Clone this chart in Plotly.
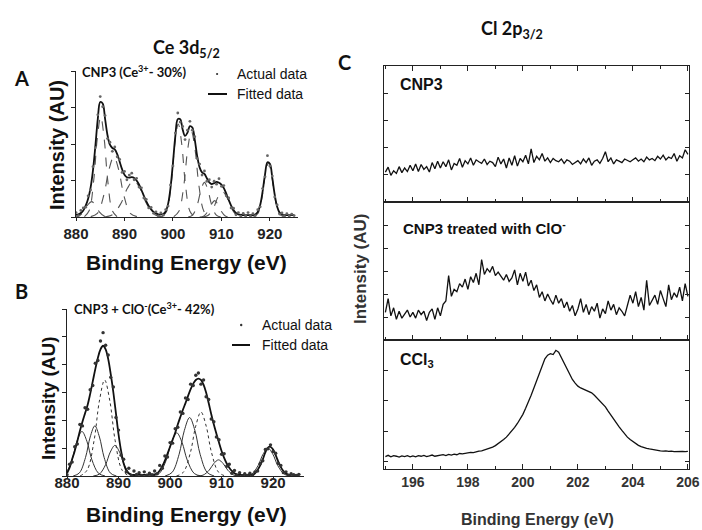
import numpy as np
import plotly.graph_objects as go

W, H = 702, 530

# ---------------- Panel A : Ce 3d5/2, CNP3 ----------------
E_A = np.arange(880, 925.01, 0.5)
fit_A = [0.06, 0.07, 0.11, 0.18, 0.31, 0.50, 0.80, 1.28, 1.95, 2.69,
         3.15, 3.11, 2.69, 2.24, 1.98, 1.89, 1.85, 1.72, 1.52, 1.31,
         1.16, 1.09, 1.08, 1.09, 1.07, 1.00, 0.89, 0.74, 0.58, 0.43,
         0.30, 0.21, 0.14, 0.10, 0.07, 0.07, 0.08, 0.15, 0.36, 0.80,
         1.48, 2.22, 2.68, 2.68, 2.40, 2.22, 2.31, 2.49, 2.45, 2.12,
         1.67, 1.36, 1.22, 1.18, 1.06, 0.95, 0.90, 0.93, 0.96, 0.94,
         0.89, 0.79, 0.64, 0.47, 0.31, 0.19, 0.11, 0.07, 0.06, 0.05,
         0.05, 0.05, 0.05, 0.05, 0.07, 0.14, 0.33, 0.70, 1.17, 1.50,
         1.46, 1.07, 0.61, 0.28, 0.12, 0.07, 0.05, 0.05, 0.05, 0.05, 0.05]
act_A = [0.12, 0.04, 0.18, 0.25, 0.27, 0.58, 0.74, 1.38, 1.90, 2.80,
         3.30, 3.02, 2.78, 2.15, 2.05, 1.80, 1.92, 1.65, 1.58, 1.22,
         1.25, 1.02, 1.15, 1.20, 1.02, 1.06, 0.82, 0.80, 0.52, 0.48,
         0.25, 0.26, 0.10, 0.14, 0.03, 0.11, 0.05, 0.20, 0.30, 0.88,
         1.40, 2.30, 2.85, 2.60, 2.48, 2.12, 2.38, 2.62, 2.38, 2.20,
         1.60, 1.45, 1.15, 1.26, 0.98, 1.02, 0.82, 0.98, 0.90, 1.05,
         0.84, 0.86, 0.58, 0.52, 0.25, 0.24, 0.06, 0.12, 0.02, 0.10,
         0.03, 0.12, 0.02, 0.09, 0.04, 0.20, 0.28, 0.78, 1.10, 1.68,
         1.40, 1.12, 0.55, 0.33, 0.08, 0.11, 0.02, 0.09, 0.03, 0.08, 0.04]
compA_x = [
    [879.56, 880.6, 881.64, 882.42, 883.2, 883.98, 884.76, 885.8, 886.84],
    [881.74, 882.7, 883.66, 884.38, 885.1, 885.82, 886.54, 887.5, 888.46],
    [883.04, 884.4, 885.76, 886.78, 887.8, 888.82, 889.84, 891.2, 892.56],
    [885.74, 887.5, 889.26, 890.58, 891.9, 893.22, 894.54, 896.3, 898.06],
    [897.74, 898.7, 899.66, 900.38, 901.1, 901.82, 902.54, 903.5, 904.46],
    [900.16, 901.2, 902.24, 903.02, 903.8, 904.58, 905.36, 906.4, 907.44],
    [903.14, 904.1, 905.06, 905.78, 906.5, 907.22, 907.94, 908.9, 909.86],
    [905.52, 906.4, 907.28, 907.94, 908.6, 909.26, 909.92, 910.8, 911.68],
    [906.0, 907.2, 908.4, 909.3, 910.2, 911.1, 912.0, 913.2, 914.4],
    [916.62, 917.5, 918.38, 919.04, 919.7, 920.36, 921.02, 921.9, 922.78],
]
compA_y = [
    [0.0, 0.03, 0.15, 0.33, 0.42, 0.33, 0.15, 0.03, 0.0],
    [0.01, 0.17, 1.01, 2.14, 2.75, 2.14, 1.01, 0.17, 0.01],
    [0.01, 0.10, 0.61, 1.29, 1.65, 1.29, 0.61, 0.10, 0.01],
    [0.0, 0.06, 0.37, 0.78, 1.0, 0.78, 0.37, 0.06, 0.0],
    [0.01, 0.16, 0.94, 1.99, 2.55, 1.99, 0.94, 0.16, 0.01],
    [0.01, 0.15, 0.86, 1.83, 2.35, 1.83, 0.86, 0.15, 0.01],
    [0.0, 0.06, 0.35, 0.74, 0.95, 0.74, 0.35, 0.06, 0.0],
    [0.0, 0.03, 0.17, 0.35, 0.45, 0.35, 0.17, 0.03, 0.0],
    [0.0, 0.04, 0.26, 0.55, 0.7, 0.55, 0.26, 0.04, 0.0],
    [0.01, 0.09, 0.54, 1.15, 1.48, 1.15, 0.54, 0.09, 0.01],
]

# ---------------- Panel B : Ce 3d5/2, CNP3 + ClO- ----------------
E_B = np.arange(880, 925.01, 0.5)
fit_B = [0.10, 0.30, 0.60, 0.90, 1.25, 1.62, 1.95, 2.25, 2.55, 2.95,
         3.40, 3.85, 4.25, 4.55, 4.68, 4.55, 4.20, 3.65, 3.00, 2.25,
         1.50, 0.90, 0.45, 0.20, 0.09, 0.05, 0.04, 0.04, 0.04, 0.04,
         0.04, 0.04, 0.04, 0.04, 0.06, 0.10, 0.20, 0.35, 0.55, 0.80,
         1.05, 1.30, 1.55, 1.85, 2.12, 2.38, 2.62, 2.88, 3.12, 3.32,
         3.45, 3.50, 3.45, 3.28, 3.00, 2.62, 2.22, 1.85, 1.52, 1.20,
         0.90, 0.65, 0.45, 0.30, 0.18, 0.10, 0.06, 0.04, 0.04, 0.04,
         0.04, 0.04, 0.04, 0.10, 0.22, 0.38, 0.60, 0.85, 1.02, 1.05,
         0.95, 0.75, 0.52, 0.32, 0.18, 0.09, 0.05, 0.04, 0.04, 0.04, 0.04]
act_B = [0.05, 0.42, 0.50, 1.05, 1.15, 1.85, 1.80, 2.45, 2.40, 3.10,
         3.25, 4.05, 4.15, 4.85, 5.15, 4.70, 4.35, 3.55, 3.20, 2.10,
         1.65, 0.75, 0.60, 0.15, 0.28, 0.02, 0.18, 0.06, 0.12, 0.02,
         0.15, 0.03, 0.10, 0.05, 0.18, 0.08, 0.38, 0.28, 0.72, 0.68,
         1.20, 1.18, 1.70, 1.75, 2.30, 2.25, 2.80, 2.75, 3.30, 3.25,
         3.62, 3.70, 3.30, 3.45, 2.85, 2.75, 2.05, 1.95, 1.40, 1.30,
         0.78, 0.80, 0.35, 0.42, 0.10, 0.20, 0.02, 0.12, 0.01, 0.08,
         0.02, 0.10, 0.01, 0.15, 0.18, 0.45, 0.55, 0.95, 0.98, 1.12,
         0.88, 0.82, 0.45, 0.38, 0.12, 0.15, 0.02, 0.08, 0.05, 0.02, 0.06]
compB_x = [
    [878.42, 879.7, 880.98, 881.94, 882.9, 883.86, 884.82, 886.1, 887.38],
    [881.2, 882.4, 883.6, 884.5, 885.4, 886.3, 887.2, 888.4, 889.6],
    [882.54, 883.9, 885.26, 886.28, 887.3, 888.32, 889.34, 890.7, 892.06],
    [885.1, 886.3, 887.5, 888.4, 889.3, 890.2, 891.1, 892.3, 893.5],
    [896.54, 897.9, 899.26, 900.28, 901.3, 902.32, 903.34, 904.7, 906.06],
    [899.04, 900.4, 901.76, 902.78, 903.8, 904.82, 905.84, 907.2, 908.56],
    [901.24, 902.6, 903.96, 904.98, 906.0, 907.02, 908.04, 909.4, 910.76],
    [905.2, 906.4, 907.6, 908.5, 909.4, 910.3, 911.2, 912.4, 913.6],
    [914.52, 915.8, 917.08, 918.04, 919.0, 919.96, 920.92, 922.2, 923.48],
]
compB_y = [
    [0.0, 0.10, 0.59, 1.25, 1.6, 1.25, 0.59, 0.10, 0.0],
    [0.0, 0.11, 0.67, 1.40, 1.8, 1.40, 0.67, 0.11, 0.0],
    [0.0, 0.21, 1.28, 2.69, 3.45, 2.69, 1.28, 0.21, 0.0],
    [0.0, 0.07, 0.41, 0.86, 1.1, 0.86, 0.41, 0.07, 0.0],
    [0.0, 0.09, 0.57, 1.21, 1.55, 1.21, 0.57, 0.09, 0.0],
    [0.0, 0.13, 0.78, 1.64, 2.1, 1.64, 0.78, 0.13, 0.0],
    [0.0, 0.14, 0.85, 1.79, 2.3, 1.79, 0.85, 0.14, 0.0],
    [0.0, 0.03, 0.21, 0.45, 0.58, 0.45, 0.21, 0.03, 0.0],
    [0.0, 0.06, 0.37, 0.78, 1.0, 0.78, 0.37, 0.06, 0.0],
]
compB_dash = ["solid", "solid", "dot", "solid", "solid", "solid", "dot", "solid", "solid"]

# ---------------- Panel C : Cl 2p3/2 ----------------
E_C = np.round(np.arange(195.0, 206.001, 0.1), 1)
cnp3 = [1.10, 1.28, 0.98, 1.15, 1.05, 1.30, 1.08, 1.25, 1.12, 1.35,
        1.15, 1.40, 1.12, 1.38, 1.20, 1.30, 1.10, 1.45, 1.22, 1.50,
        1.25, 1.48, 1.30, 1.55, 1.18, 1.42, 1.35, 1.60, 1.28, 1.52,
        1.40, 1.62, 1.35, 1.55, 1.48, 1.42, 1.58, 1.38, 1.50, 1.45,
        1.30, 1.65, 1.40, 1.58, 1.25, 1.62, 1.35, 1.70, 1.32, 1.60,
        1.48, 1.72, 1.40, 1.95, 1.45, 1.68, 1.55, 1.78, 1.50, 1.62,
        1.45, 1.60, 1.52, 1.48, 1.58, 1.42, 1.55, 1.50, 1.38, 1.45,
        1.52, 1.40, 1.58, 1.45, 1.62, 1.35, 1.50, 1.55, 1.42, 1.60,
        1.85, 1.48, 1.62, 1.40, 1.55, 1.50, 1.45, 1.58, 1.52, 1.48,
        1.55, 1.62, 1.50, 1.58, 1.48, 1.65, 1.55, 1.60, 1.52, 1.68,
        1.58, 1.72, 1.55, 1.65, 1.60, 1.78, 1.50, 1.70, 1.62, 1.92,
        1.75]
cnp3_clo = [1.20, 1.80, 1.05, 1.40, 0.90, 1.25, 0.95, 1.15, 1.30, 1.00,
            1.20, 0.95, 1.30, 1.10, 1.25, 0.85, 1.20, 1.35, 0.90, 1.40,
            1.05, 1.55, 1.70, 2.80, 1.90, 2.20, 2.10, 2.45, 2.30, 2.65,
            2.20, 2.75, 2.50, 2.90, 2.40, 3.50, 2.85, 3.10, 2.95, 3.20,
            2.80, 2.95, 2.75, 2.60, 2.85, 2.55, 2.70, 3.05, 2.40, 2.90,
            2.55, 2.95, 2.35, 2.60, 2.15, 2.40, 1.85, 2.10, 1.70, 2.00,
            1.75, 1.55, 1.95, 1.60, 1.80, 1.40, 1.65, 1.25, 1.50, 1.05,
            1.35, 1.80, 1.20, 1.55, 1.10, 1.45, 1.25, 1.60, 0.95, 1.35,
            1.15, 1.70, 1.30, 1.55, 1.10, 1.40, 1.25, 1.05, 1.50, 1.95,
            1.60, 2.10, 1.45, 1.85, 1.30, 2.60, 1.50, 1.70, 1.95, 1.55,
            2.15, 1.80, 1.45, 2.40, 1.75, 2.05, 1.85, 2.30, 1.70, 2.45,
            1.90]
ccl3 = [0.16, 0.20, 0.15, 0.19, 0.17, 0.14, 0.18, 0.16, 0.19, 0.15,
        0.18, 0.15, 0.19, 0.17, 0.20, 0.16, 0.18, 0.21, 0.17, 0.19,
        0.20, 0.22, 0.19, 0.23, 0.21, 0.24, 0.22, 0.26, 0.25, 0.27,
        0.28, 0.30, 0.29, 0.32, 0.34, 0.35, 0.38, 0.40, 0.44, 0.47,
        0.52, 0.58, 0.64, 0.72, 0.80, 0.90, 1.00, 1.12, 1.25, 1.40,
        1.55, 1.75, 1.95, 2.18, 2.42, 2.65, 2.90, 3.15, 3.38, 3.50,
        3.55, 3.52, 3.66, 3.60, 3.42, 3.22, 3.02, 2.85, 2.70, 2.58,
        2.48, 2.42, 2.38, 2.32, 2.30, 2.26, 2.18, 2.08, 1.98, 1.90,
        1.80, 1.66, 1.52, 1.40, 1.26, 1.14, 1.02, 0.90, 0.80, 0.72,
        0.65, 0.58, 0.53, 0.49, 0.45, 0.43, 0.41, 0.39, 0.37, 0.36,
        0.35, 0.34, 0.35, 0.33, 0.34, 0.32, 0.33, 0.32, 0.33, 0.32,
        0.33]

ce_ticks = [880, 890, 900, 910, 920]
cl_ticks = [196, 198, 200, 202, 204, 206]


def px(x):
    return x / W


def py(y):
    return 1 - y / H


fig = go.Figure()

# Panel A traces
for cx, cy in zip(compA_x, compA_y):
    fig.add_trace(go.Scatter(x=cx, y=cy, mode="lines", line_shape="spline",
                             line=dict(color="#555555", width=1.1, dash="dash"),
                             xaxis="x", yaxis="y", showlegend=False, hoverinfo="skip"))
fig.add_trace(go.Scatter(x=E_A, y=fit_A, mode="lines", line_shape="spline",
                         line=dict(color="#111111", width=1.8),
                         xaxis="x", yaxis="y", showlegend=False))
fig.add_trace(go.Scatter(x=E_A, y=act_A, mode="markers",
                         marker=dict(color="#666666", size=2.8),
                         xaxis="x", yaxis="y", showlegend=False))

# Panel B traces
for cx, cy, dsh in zip(compB_x, compB_y, compB_dash):
    fig.add_trace(go.Scatter(x=cx, y=cy, mode="lines", line_shape="spline",
                             line=dict(color="#333333", width=1.0, dash=dsh),
                             xaxis="x2", yaxis="y2", showlegend=False, hoverinfo="skip"))
fig.add_trace(go.Scatter(x=E_B, y=fit_B, mode="lines", line_shape="spline",
                         line=dict(color="#111111", width=1.8),
                         xaxis="x2", yaxis="y2", showlegend=False))
fig.add_trace(go.Scatter(x=E_B, y=act_B, mode="markers",
                         marker=dict(color="#333333", size=3.4),
                         xaxis="x2", yaxis="y2", showlegend=False))

# Panel C traces
for arr, xa, ya in [(cnp3, "x3", "y3"), (cnp3_clo, "x4", "y4"), (ccl3, "x5", "y5")]:
    fig.add_trace(go.Scatter(x=E_C, y=arr, mode="lines",
                             line=dict(color="#111111", width=1.3),
                             xaxis=xa, yaxis=ya, showlegend=False))

ax_line = dict(showline=True, linecolor="#222222", linewidth=1.4, showgrid=False,
               zeroline=False, automargin=False)
tick_font_ab = dict(family="Liberation Sans, Arial", size=15, color="#222222",
                    weight="bold")

xa_A = dict(ax_line, domain=[px(76), px(298)], range=[880, 925.8], anchor="y",
            tickvals=ce_ticks, ticks="outside", ticklen=3, tickcolor="#222222",
            tickfont=tick_font_ab)
ya_A = dict(ax_line, domain=[py(217), py(71)], range=[0, 4], anchor="x",
            dtick=1, ticks="outside", ticklen=4, tickcolor="#222222",
            showticklabels=False)
xa_B = dict(ax_line, domain=[px(67), px(304)], range=[880, 926], anchor="y2",
            tickvals=ce_ticks, ticks="outside", ticklen=2, tickcolor="#222222",
            tickfont=tick_font_ab, ticklabelstandoff=-9)
ya_B = dict(ax_line, domain=[py(476), py(309)], range=[0, 6], anchor="x2",
            dtick=1, ticks="outside", ticklen=4, tickcolor="#222222",
            showticklabels=False)

c_dom = [px(384), px(689)]
c_range = [194.95, 206.04]
c_x_common = dict(ax_line, domain=c_dom, range=c_range, tickvals=cl_ticks,
                  ticks="inside", ticklen=5, tickcolor="#222222",
                  minor=dict(dtick=1, tick0=195, ticks="inside", ticklen=2.5,
                             tickcolor="#222222"))
c_y_common = dict(ax_line, ticks="inside", ticklen=4, tickcolor="#222222",
                  showticklabels=False, mirror="ticks")

layout = dict(
    width=W, height=H, autosize=False,
    margin=dict(l=0, r=0, t=0, b=0, pad=0, autoexpand=False),
    paper_bgcolor="white", plot_bgcolor="rgba(0,0,0,0)",
    xaxis=xa_A, yaxis=ya_A, xaxis2=xa_B, yaxis2=ya_B,
    xaxis3=dict(c_x_common, anchor="y3", mirror="ticks", showticklabels=False),
    yaxis3=dict(c_y_common, anchor="x3", domain=[py(202), py(66)], range=[0, 5], dtick=1),
    xaxis4=dict(c_x_common, anchor="y4", mirror=True, showticklabels=False),
    yaxis4=dict(c_y_common, anchor="x4", domain=[py(340), py(202)], range=[0, 6], dtick=1),
    xaxis5=dict(c_x_common, anchor="y5", mirror=True, showticklabels=True,
                tickfont=dict(family="Liberation Sans, Arial", size=14, color="#333333",
                              weight="bold")),
    yaxis5=dict(c_y_common, anchor="x5", domain=[py(469), py(340)], range=[-0.25, 4],
                tickvals=[0, 1, 2, 3]),
    showlegend=False,
)
fig.update_layout(**layout)

ann = []


def add_text(text, x, y, size, family="Liberation Sans, Arial", xanchor="center",
             yanchor="middle", angle=0, color="#111111"):
    ann.append(dict(text=text, x=px(x), y=py(y), xref="paper", yref="paper",
                    showarrow=False, xanchor=xanchor, yanchor=yanchor, textangle=angle,
                    font=dict(family=family, size=size, color=color)))


cal = "Lato, Open Sans, sans-serif"
add_text("<b>Ce 3d<sub>5/2</sub></b>", 187, 49, 18, family=cal)
add_text("<b>Cl 2p<sub>3/2</sub></b>", 512, 30, 18, family=cal)
add_text("<b>A</b>", 21, 78, 20, family=cal)
add_text("<b>B</b>", 21, 291, 20, family=cal)
add_text("<b>C</b>", 344, 62, 20, family=cal)

add_text("<b>CNP3 (Ce<sup>3+</sup>- 30%)</b>", 80, 72, 13, family=cal, xanchor="left")
add_text("<b>CNP3 + ClO<sup>-</sup>(Ce<sup>3+</sup>- 42%)</b>", 72, 308, 13, family=cal,
         xanchor="left")

add_text("Actual data", 235, 74, 14, xanchor="left")
add_text("Fitted data", 235, 94, 14, xanchor="left")
add_text("Actual data", 260, 325, 14, xanchor="left")
add_text("Fitted data", 260, 345, 14, xanchor="left")

add_text("<b>Intensity (AU)</b>", 57, 145, 20, angle=-90)
add_text("<b>Binding Energy (eV)</b>", 186, 262, 21)
add_text("<b>Intensity (AU)</b>", 48, 398, 19, angle=-90)
add_text("<b>Binding Energy (eV)</b>", 186, 514, 21)

add_text("<b>CNP3</b>", 398, 85, 16, xanchor="left")
add_text("<b>CNP3 treated with ClO<sup>-</sup></b>", 401, 227, 15, xanchor="left")
add_text("<b>CCl<sub>3</sub></b>", 398, 360, 16, xanchor="left")
add_text("<b>Intensity (AU)</b>", 360, 268, 17, angle=-90, color="#333333")
add_text("<b>Binding Energy (eV)</b>", 537, 519, 16, color="#333333")

shapes = [
    dict(type="circle", xref="paper", yref="paper", x0=px(216), x1=px(218.2),
         y0=py(75.1), y1=py(72.9), fillcolor="#333333", line=dict(width=0)),
    dict(type="line", xref="paper", yref="paper", x0=px(208), x1=px(227),
         y0=py(94), y1=py(94), line=dict(color="#111111", width=2)),
    dict(type="circle", xref="paper", yref="paper", x0=px(240), x1=px(242.4),
         y0=py(326.2), y1=py(323.8), fillcolor="#333333", line=dict(width=0)),
    dict(type="line", xref="paper", yref="paper", x0=px(232), x1=px(250),
         y0=py(345), y1=py(345), line=dict(color="#111111", width=2)),
]
fig.update_layout(annotations=ann, shapes=shapes)

fig.write_html("out.html",
               config={"displayModeBar": False},
               post_script="document.body.style.margin='0';"
                           "document.body.style.overflow='hidden';")
